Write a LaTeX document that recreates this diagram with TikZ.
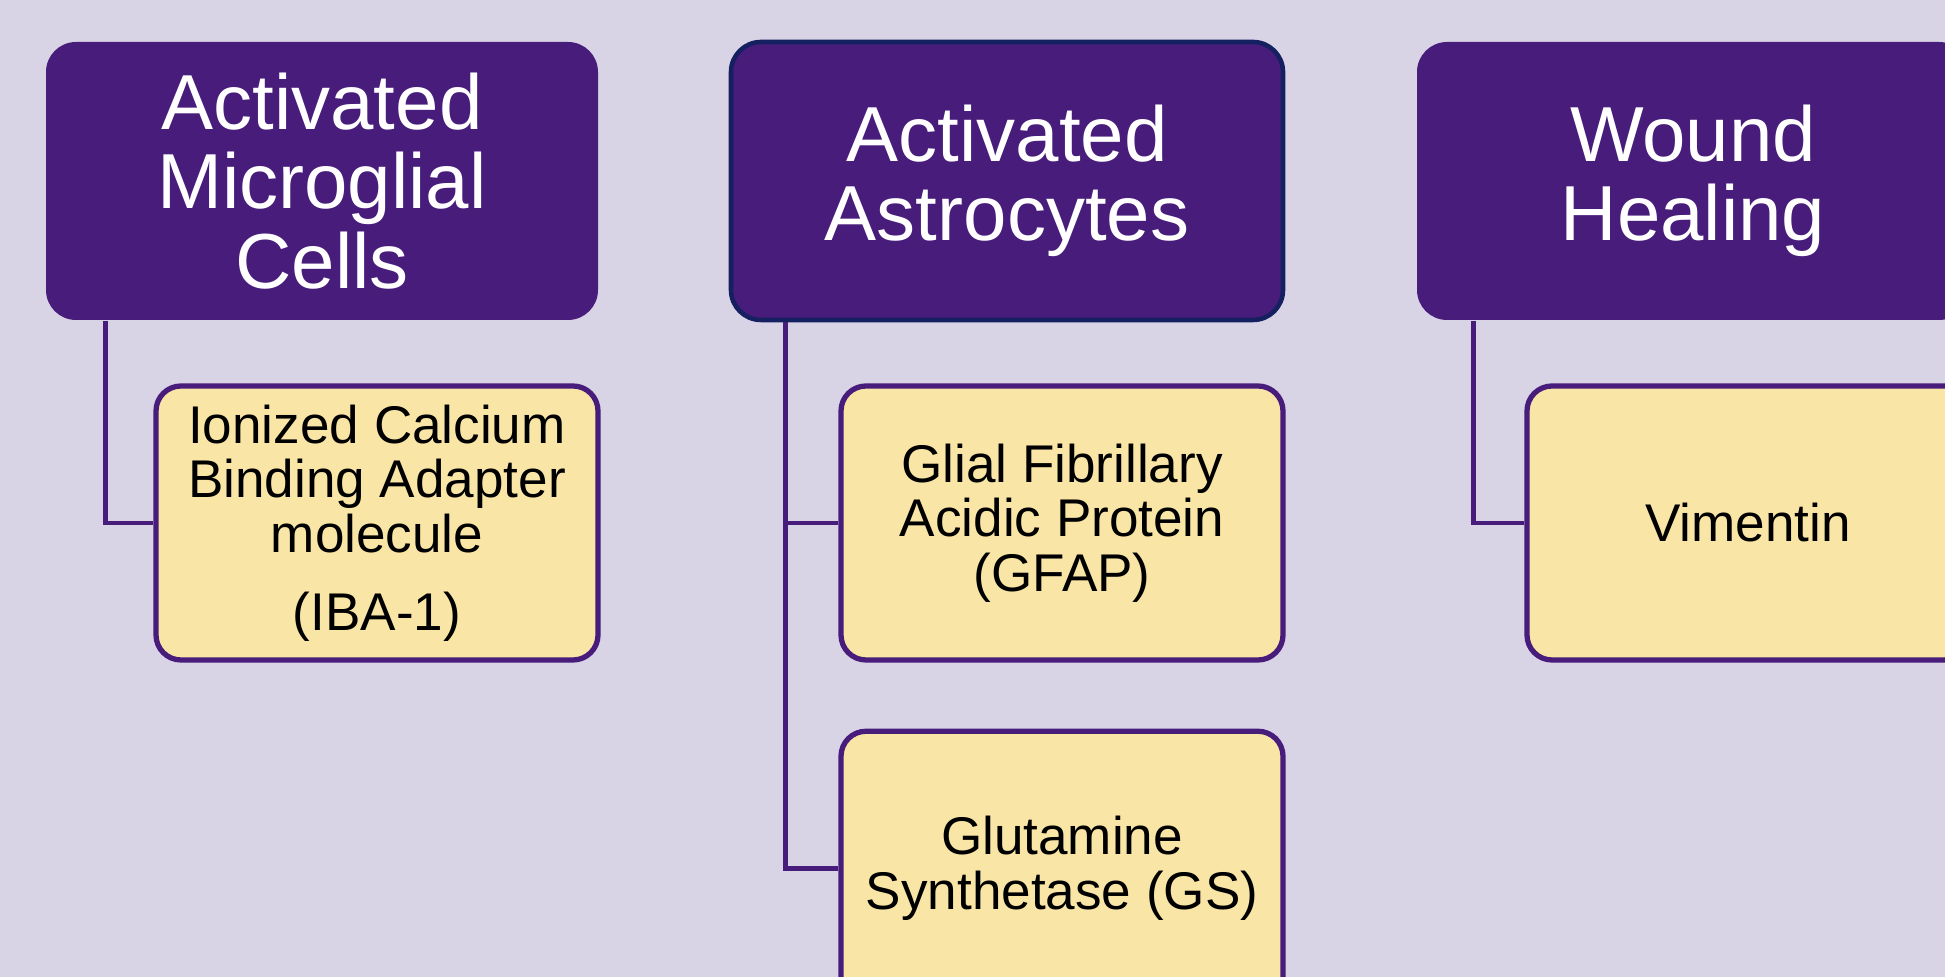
\documentclass[tikz,border=0pt]{standalone}
\usepackage{fontspec}
\setmainfont{Liberation Sans}
\usetikzlibrary{positioning}

\definecolor{bgback}{HTML}{D9D3E6}
\definecolor{hdrpurple}{HTML}{481C7B}
\definecolor{hdrnavy}{HTML}{14205F}
\definecolor{leafyellow}{HTML}{F9E5A5}

\tikzset{
  hdr/.style={rectangle, rounded corners=0.3cm, fill=hdrpurple, text=white,
    minimum width=5.52cm, minimum height=2.78cm, align=center, inner sep=0pt,
    font=\fontsize{22.2}{22.6}\selectfont},
  leaf/.style={rectangle, rounded corners=0.25cm, draw=hdrpurple, line width=1.5pt,
    fill=leafyellow, text=black, minimum width=4.42cm, minimum height=2.74cm,
    align=center, inner sep=0pt, font=\fontsize{15.1}{15.5}\selectfont},
  conn/.style={draw=hdrpurple, line width=1.4pt}
}

\begin{document}
\begin{tikzpicture}
    \clip (0,0) rectangle (19.45,-9.77);
    \fill[bgback] (0,0) rectangle (19.45,-9.77);

    % top row
    \node[hdr] (micro) at (3.22,-1.81) {Activated\\Microglial\\Cells};
    \node[hdr, draw=hdrnavy, line width=1.3pt] (astro) at (10.07,-1.81) {Activated\\Astrocytes};
    \node[hdr] (wound) at (16.93,-1.81) {Wound\\Healing};

    % markers
    \node[leaf] (iba) at (3.77,-5.23) {Ionized Calcium\\Binding Adapter\\molecule\\[0.85ex](IBA-1)};
    \node[leaf] (gfap) at (10.62,-5.23) {Glial Fibrillary\\Acidic Protein\\(GFAP)};
    \node[leaf, below=0.66cm of gfap] (gs) {Glutamine\\Synthetase (GS)};
    \node[leaf] (vim) at (17.48,-5.23) {Vimentin};

    \draw[conn] ([xshift=0.6cm]micro.south west) |- (iba.west);
    \draw[conn] ([xshift=0.57cm]astro.south west) |- (gfap.west);
    \draw[conn] ([xshift=0.57cm]astro.south west) |- (gs.west);
    \draw[conn] ([xshift=0.57cm]wound.south west) |- (vim.west);
\end{tikzpicture}
\end{document}
